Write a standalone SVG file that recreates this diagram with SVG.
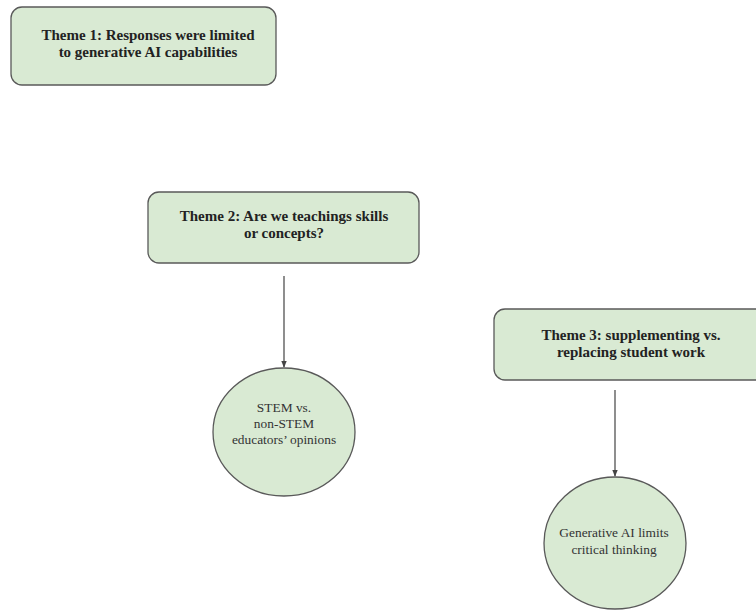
<svg xmlns="http://www.w3.org/2000/svg" width="756" height="610" viewBox="0 0 756 610">
<style>
.box{fill:#d9ead3;stroke:#595959;stroke-width:1.3}
.tb{font-family:"Liberation Serif",serif;font-weight:bold;font-size:15px;fill:#222;text-anchor:middle}
.tr{font-family:"Liberation Serif",serif;font-size:13.4px;fill:#333;text-anchor:middle}
.conn{stroke:#444;stroke-width:1.2;fill:none}
</style>
<defs>
<marker id="ah" viewBox="0 0 10 10" refX="9" refY="5" markerWidth="6" markerHeight="6" orient="auto">
<path d="M0,1 L10,5 L0,9 z" fill="#444"/>
</marker>
</defs>
<rect width="756" height="610" fill="#fff"/>
<g id="theme1">
<rect class="box" x="11" y="7" width="265" height="78" rx="11"/>
<text class="tb" x="148" y="39.5">Theme 1: Responses were limited</text>
<text class="tb" x="148" y="56.5">to generative AI capabilities</text>
</g>
<g id="theme2">
<rect class="box" x="148" y="192" width="271" height="71" rx="11"/>
<text class="tb" x="284" y="221">Theme 2: Are we teachings skills</text>
<text class="tb" x="284" y="238">or concepts?</text>
</g>
<g id="theme3">
<rect class="box" x="494" y="309" width="280" height="71" rx="11"/>
<text class="tb" x="631" y="340">Theme 3: supplementing vs.</text>
<text class="tb" x="631" y="357">replacing student work</text>
</g>
<g id="stem">
<ellipse class="box" cx="284" cy="432" rx="71" ry="64"/>
<text class="tr" x="284" y="412">STEM vs.</text>
<text class="tr" x="284" y="428">non-STEM</text>
<text class="tr" x="284" y="444">educators’ opinions</text>
</g>
<g id="limits">
<ellipse class="box" cx="615" cy="543" rx="71" ry="66"/>
<text class="tr" x="614" y="537">Generative AI limits</text>
<text class="tr" x="614" y="554">critical thinking</text>
</g>
<g id="connectors">
<line class="conn" x1="284" y1="276" x2="284" y2="367" marker-end="url(#ah)"/>
<line class="conn" x1="615" y1="390" x2="615" y2="476" marker-end="url(#ah)"/>
</g>
</svg>
